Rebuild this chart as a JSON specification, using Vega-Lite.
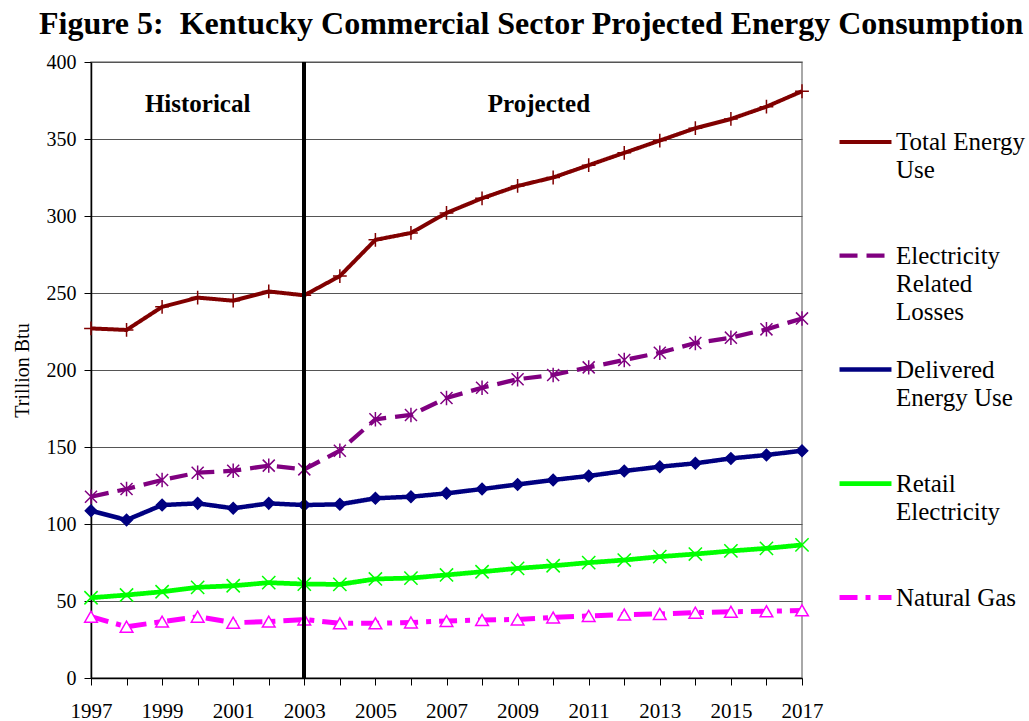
{
  "$schema": "https://vega.github.io/schema/vega-lite/v6.json",
  "width": 711,
  "height": 616,
  "autosize": {"type": "none"},
  "padding": {"left": 91, "top": 62, "right": 227, "bottom": 43},
  "background": "white",
  "title": {
    "text": "Figure 5:\u00a0 Kentucky Commercial Sector Projected Energy Consumption",
    "font": "Liberation Serif",
    "fontSize": 32,
    "fontWeight": "bold",
    "color": "black",
    "anchor": "start",
    "frame": "group",
    "dx": -52,
    "offset": 11
  },
  "config": {
    "font": "Liberation Serif",
    "view": {"stroke": "#8c8c8c", "strokeWidth": 1.5},
    "style": {
      "guide-label": {"lineHeight": 28, "font": "Liberation Serif"},
      "guide-title": {"font": "Liberation Serif"}
    },
    "legend": {"labelFont": "Liberation Serif", "labelFontSize": 25},
    "axis": {
      "labelFont": "Liberation Serif",
      "titleFont": "Liberation Serif",
      "labelColor": "black",
      "titleColor": "black",
      "domainColor": "black",
      "tickColor": "black"
    }
  },
  "data": {
    "values": [
      {"year": 1997, "series": "Total Energy Use", "value": 227},
      {"year": 1998, "series": "Total Energy Use", "value": 226},
      {"year": 1999, "series": "Total Energy Use", "value": 241},
      {"year": 2000, "series": "Total Energy Use", "value": 247},
      {"year": 2001, "series": "Total Energy Use", "value": 245},
      {"year": 2002, "series": "Total Energy Use", "value": 251},
      {"year": 2003, "series": "Total Energy Use", "value": 248.5},
      {"year": 2004, "series": "Total Energy Use", "value": 261},
      {"year": 2005, "series": "Total Energy Use", "value": 284.5},
      {"year": 2006, "series": "Total Energy Use", "value": 289},
      {"year": 2007, "series": "Total Energy Use", "value": 302},
      {"year": 2008, "series": "Total Energy Use", "value": 311.5},
      {"year": 2009, "series": "Total Energy Use", "value": 319.5},
      {"year": 2010, "series": "Total Energy Use", "value": 325},
      {"year": 2011, "series": "Total Energy Use", "value": 333},
      {"year": 2012, "series": "Total Energy Use", "value": 341},
      {"year": 2013, "series": "Total Energy Use", "value": 349},
      {"year": 2014, "series": "Total Energy Use", "value": 357},
      {"year": 2015, "series": "Total Energy Use", "value": 363},
      {"year": 2016, "series": "Total Energy Use", "value": 371},
      {"year": 2017, "series": "Total Energy Use", "value": 381},
      {"year": 1997, "series": "Electricity Related Losses", "value": 117.7},
      {"year": 1998, "series": "Electricity Related Losses", "value": 122.7},
      {"year": 1999, "series": "Electricity Related Losses", "value": 128.6},
      {"year": 2000, "series": "Electricity Related Losses", "value": 133.3},
      {"year": 2001, "series": "Electricity Related Losses", "value": 134.6},
      {"year": 2002, "series": "Electricity Related Losses", "value": 137.9},
      {"year": 2003, "series": "Electricity Related Losses", "value": 135.5},
      {"year": 2004, "series": "Electricity Related Losses", "value": 147.6},
      {"year": 2005, "series": "Electricity Related Losses", "value": 168},
      {"year": 2006, "series": "Electricity Related Losses", "value": 170.8},
      {"year": 2007, "series": "Electricity Related Losses", "value": 181.8},
      {"year": 2008, "series": "Electricity Related Losses", "value": 188.5},
      {"year": 2009, "series": "Electricity Related Losses", "value": 194},
      {"year": 2010, "series": "Electricity Related Losses", "value": 196.8},
      {"year": 2011, "series": "Electricity Related Losses", "value": 201.7},
      {"year": 2012, "series": "Electricity Related Losses", "value": 206.5},
      {"year": 2013, "series": "Electricity Related Losses", "value": 211.2},
      {"year": 2014, "series": "Electricity Related Losses", "value": 217.5},
      {"year": 2015, "series": "Electricity Related Losses", "value": 221},
      {"year": 2016, "series": "Electricity Related Losses", "value": 226.4},
      {"year": 2017, "series": "Electricity Related Losses", "value": 233.5},
      {"year": 1997, "series": "Delivered Energy Use", "value": 108.6},
      {"year": 1998, "series": "Delivered Energy Use", "value": 102.6},
      {"year": 1999, "series": "Delivered Energy Use", "value": 112.3},
      {"year": 2000, "series": "Delivered Energy Use", "value": 113.4},
      {"year": 2001, "series": "Delivered Energy Use", "value": 110.2},
      {"year": 2002, "series": "Delivered Energy Use", "value": 113.4},
      {"year": 2003, "series": "Delivered Energy Use", "value": 112.3},
      {"year": 2004, "series": "Delivered Energy Use", "value": 112.8},
      {"year": 2005, "series": "Delivered Energy Use", "value": 116.7},
      {"year": 2006, "series": "Delivered Energy Use", "value": 117.7},
      {"year": 2007, "series": "Delivered Energy Use", "value": 119.9},
      {"year": 2008, "series": "Delivered Energy Use", "value": 122.7},
      {"year": 2009, "series": "Delivered Energy Use", "value": 125.7},
      {"year": 2010, "series": "Delivered Energy Use", "value": 128.6},
      {"year": 2011, "series": "Delivered Energy Use", "value": 131.2},
      {"year": 2012, "series": "Delivered Energy Use", "value": 134.4},
      {"year": 2013, "series": "Delivered Energy Use", "value": 137.2},
      {"year": 2014, "series": "Delivered Energy Use", "value": 139.4},
      {"year": 2015, "series": "Delivered Energy Use", "value": 142.6},
      {"year": 2016, "series": "Delivered Energy Use", "value": 144.8},
      {"year": 2017, "series": "Delivered Energy Use", "value": 147.6},
      {"year": 1997, "series": "Retail Electricity", "value": 52.1},
      {"year": 1998, "series": "Retail Electricity", "value": 53.9},
      {"year": 1999, "series": "Retail Electricity", "value": 56},
      {"year": 2000, "series": "Retail Electricity", "value": 58.9},
      {"year": 2001, "series": "Retail Electricity", "value": 59.9},
      {"year": 2002, "series": "Retail Electricity", "value": 61.9},
      {"year": 2003, "series": "Retail Electricity", "value": 61},
      {"year": 2004, "series": "Retail Electricity", "value": 60.8},
      {"year": 2005, "series": "Retail Electricity", "value": 64.3},
      {"year": 2006, "series": "Retail Electricity", "value": 64.9},
      {"year": 2007, "series": "Retail Electricity", "value": 66.9},
      {"year": 2008, "series": "Retail Electricity", "value": 69},
      {"year": 2009, "series": "Retail Electricity", "value": 71.2},
      {"year": 2010, "series": "Retail Electricity", "value": 72.9},
      {"year": 2011, "series": "Retail Electricity", "value": 74.9},
      {"year": 2012, "series": "Retail Electricity", "value": 76.6},
      {"year": 2013, "series": "Retail Electricity", "value": 78.8},
      {"year": 2014, "series": "Retail Electricity", "value": 80.5},
      {"year": 2015, "series": "Retail Electricity", "value": 82.5},
      {"year": 2016, "series": "Retail Electricity", "value": 84.2},
      {"year": 2017, "series": "Retail Electricity", "value": 86.4},
      {"year": 1997, "series": "Natural Gas", "value": 39.8},
      {"year": 1998, "series": "Natural Gas", "value": 33.3},
      {"year": 1999, "series": "Natural Gas", "value": 36.6},
      {"year": 2000, "series": "Natural Gas", "value": 39.8},
      {"year": 2001, "series": "Natural Gas", "value": 35.9},
      {"year": 2002, "series": "Natural Gas", "value": 36.6},
      {"year": 2003, "series": "Natural Gas", "value": 38},
      {"year": 2004, "series": "Natural Gas", "value": 35.5},
      {"year": 2005, "series": "Natural Gas", "value": 35.5},
      {"year": 2006, "series": "Natural Gas", "value": 36.1},
      {"year": 2007, "series": "Natural Gas", "value": 37},
      {"year": 2008, "series": "Natural Gas", "value": 37.7},
      {"year": 2009, "series": "Natural Gas", "value": 38},
      {"year": 2010, "series": "Natural Gas", "value": 39.3},
      {"year": 2011, "series": "Natural Gas", "value": 40.3},
      {"year": 2012, "series": "Natural Gas", "value": 41.2},
      {"year": 2013, "series": "Natural Gas", "value": 41.6},
      {"year": 2014, "series": "Natural Gas", "value": 42.4},
      {"year": 2015, "series": "Natural Gas", "value": 43},
      {"year": 2016, "series": "Natural Gas", "value": 43.3},
      {"year": 2017, "series": "Natural Gas", "value": 43.9}
    ]
  },
  "encoding": {
    "x": {
      "field": "year",
      "type": "quantitative",
      "scale": {"domain": [1997, 2017], "nice": false, "zero": false},
      "axis": {
        "title": null,
        "values": [1997, 1998, 1999, 2000, 2001, 2002, 2003, 2004, 2005, 2006, 2007, 2008, 2009, 2010, 2011, 2012, 2013, 2014, 2015, 2016, 2017],
        "labelExpr": "datum.value % 2 == 1 ? datum.label : ''",
        "format": "d",
        "grid": false,
        "labelFontSize": 21,
        "labelFlush": false,
        "tickSize": 7,
        "labelPadding": 15,
        "labelOverlap": false,
        "domainWidth": 1.5
      }
    },
    "y": {
      "field": "value",
      "type": "quantitative",
      "scale": {"domain": [0, 400], "nice": false},
      "axis": {
        "title": "Trillion Btu",
        "titleFontSize": 20,
        "titleFontWeight": "normal",
        "titlePadding": 14,
        "values": [0, 50, 100, 150, 200, 250, 300, 350, 400],
        "labelFontSize": 20,
        "labelFlush": false,
        "tickSize": 7,
        "labelPadding": 8,
        "grid": true,
        "gridColor": "#555",
        "gridWidth": 1.2,
        "domainWidth": 1.5
      }
    }
  },
  "layer": [
    {
      "mark": {"type": "line", "strokeCap": "butt", "strokeJoin": "round"},
      "encoding": {
        "color": {
          "field": "series",
          "type": "nominal",
          "scale": {
            "domain": ["Total Energy Use", "Electricity Related Losses", "Delivered Energy Use", "Retail Electricity", "Natural Gas"],
            "range": ["#800000", "#800080", "#000080", "#00ff00", "#ff00ff"]
          },
          "legend": {
            "orient": "none",
            "legendX": 746,
            "legendY": 52,
            "title": null,
            "padding": 0,
            "symbolType": "stroke",
            "symbolSize": 2700,
            "symbolStrokeWidth": 4.5,
            "labelFont": "Liberation Serif",
            "labelFontSize": 25,
            "labelColor": "black",
            "labelOffset": 2,
            "labelLimit": 300,
            "rowPadding": 16,
            "encoding": {"labels": {"font": {"value": "Liberation Serif"}}},
            "labelExpr": "datum.label == 'Total Energy Use' ? ['Total Energy', 'Use', ''] : datum.label == 'Electricity Related Losses' ? ['Electricity', 'Related', 'Losses'] : datum.label == 'Delivered Energy Use' ? ['Delivered', 'Energy Use', ''] : datum.label == 'Retail Electricity' ? ['Retail', 'Electricity', ''] : ['Natural Gas', '', '']"
          }
        },
        "strokeDash": {
          "field": "series",
          "type": "nominal",
          "scale": {
            "domain": ["Total Energy Use", "Electricity Related Losses", "Delivered Energy Use", "Retail Electricity", "Natural Gas"],
            "range": [[1, 0], [18, 9], [1, 0], [1, 0], [18, 8, 5, 8]]
          }
        },
        "strokeWidth": {
          "field": "series",
          "type": "nominal",
          "scale": {
            "domain": ["Total Energy Use", "Electricity Related Losses", "Delivered Energy Use", "Retail Electricity", "Natural Gas"],
            "range": [4, 5, 3, 5, 4.5]
          },
          "legend": null
        }
      }
    },
    {
      "mark": {"type": "point", "strokeWidth": 1.5, "opacity": 1},
      "encoding": {
        "shape": {
          "field": "series",
          "type": "nominal",
          "scale": {
            "range": ["diamond", "M-1,-1L1,1M-1,1L1,-1M0,-1.2V1.2", "triangle-up", "M-1,-1L1,1M-1,1L1,-1", "M-1,0H1M0,-1V1"]
          },
          "legend": null
        },
        "stroke": {
          "field": "series",
          "type": "nominal",
          "scale": {
            "range": ["#000080", "#800080", "#ff00ff", "#00ff00", "#800000"]
          },
          "legend": null
        },
        "fill": {
          "field": "series",
          "type": "nominal",
          "scale": {
            "range": ["#000080", "transparent", "white", "transparent", "transparent"]
          },
          "legend": null
        },
        "size": {
          "field": "series",
          "type": "nominal",
          "scale": {
            "range": [130, 190, 120, 150, 170]
          },
          "legend": null
        }
      }
    },
    {
      "mark": {"type": "rule", "color": "black", "strokeWidth": 3},
      "encoding": {"x": {"datum": 2003}, "y": {"datum": 0}, "y2": {"datum": 400}}
    },
    {
      "data": {"values": [{"label": "Historical", "year": 2000, "value": 373}, {"label": "Projected", "year": 2009.6, "value": 373}]},
      "mark": {"type": "text", "font": "Liberation Serif", "fontSize": 25, "fontWeight": "bold", "color": "black", "baseline": "middle", "align": "center"},
      "encoding": {"text": {"field": "label"}}
    }
  ]
}
